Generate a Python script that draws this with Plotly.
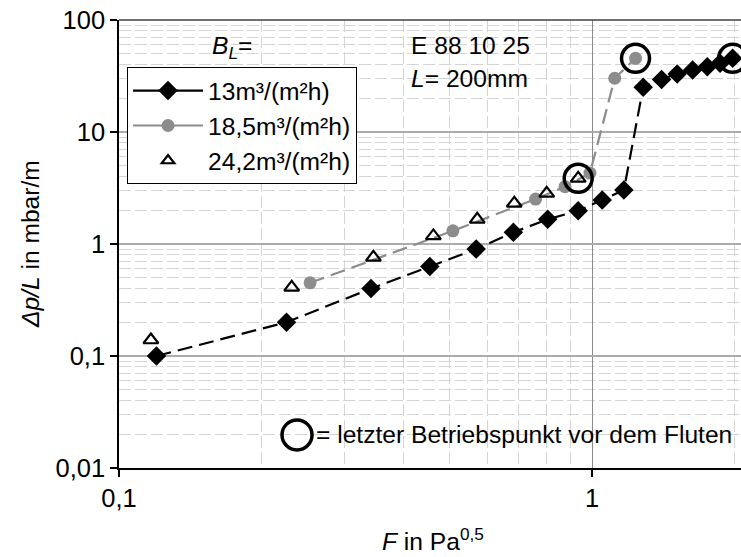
import plotly.graph_objects as go

# --- data ---
F_13 = [0.12, 0.226, 0.341, 0.454, 0.569, 0.682, 0.806, 0.935, 1.051, 1.168, 1.283, 1.403, 1.514, 1.632, 1.753, 1.865, 1.983]
dp_13 = [0.10, 0.20, 0.40, 0.63, 0.90, 1.27, 1.66, 1.98, 2.47, 3.03, 25.1, 29.5, 33.0, 35.8, 38.3, 41.0, 45.5]

F_185 = [0.2535, 0.508, 0.760, 0.877, 0.99, 1.117, 1.236]
dp_185 = [0.45, 1.31, 2.52, 3.25, 4.3, 30.2, 45.5]

F_242 = [0.1168, 0.2318, 0.345, 0.462, 0.572, 0.685, 0.802, 0.935]
dp_242 = [0.139, 0.41, 0.76, 1.18, 1.66, 2.31, 2.83, 3.86]

series_names = ["13m³/(m²h)", "18,5m³/(m²h)", "24,2m³/(m²h)"]

y_tickvals = [0.01, 0.1, 1, 10, 100]
y_ticktext = ["0,01", "0,1", "1", "10", "100"]
x_tickvals = [0.1, 1]
x_ticktext = ["0,1", "1"]

x_minor = [0.2, 0.3, 0.4, 0.5, 0.6, 0.7, 0.8, 0.9, 2]
y_minor = [m * d for d in (0.01, 0.1, 1, 10) for m in range(2, 10)]

FONT = "Liberation Sans, Arial, sans-serif"
FS = 24.6
FT = 25.5

fig = go.Figure()

# data traces
fig.add_trace(go.Scatter(x=F_13, y=dp_13, mode="lines+markers", showlegend=False,
                         line=dict(color="black", width=2.2, dash="15px,7px"),
                         marker=dict(symbol="diamond", size=15, color="black")))
fig.add_trace(go.Scatter(x=F_185, y=dp_185, mode="lines+markers", showlegend=False,
                         line=dict(color="#8c8c8c", width=2.2, dash="15px,7px"),
                         marker=dict(symbol="circle", size=13, color="#8c8c8c")))
fig.add_trace(go.Scatter(x=F_242, y=dp_242, mode="markers", showlegend=False,
                         marker=dict(symbol="triangle-up-open", size=13, color="black",
                                     line=dict(width=2.2, color="black"))))

# last operating points before flooding
fig.add_trace(go.Scatter(x=[F_13[-1], F_185[-1], F_242[-1]],
                         y=[dp_13[-1], dp_185[-1], dp_242[-1]],
                         mode="markers", showlegend=False,
                         marker=dict(symbol="circle-open", size=28, color="black",
                                     line=dict(width=3.5, color="black"))))

# legend entries (solid lines as in reference legend)
fig.add_trace(go.Scatter(x=[None], y=[None], mode="lines+markers", name=series_names[0],
                         line=dict(color="black", width=2.2),
                         marker=dict(symbol="diamond", size=15, color="black")))
fig.add_trace(go.Scatter(x=[None], y=[None], mode="lines+markers", name=series_names[1],
                         line=dict(color="#8c8c8c", width=2.2),
                         marker=dict(symbol="circle", size=13, color="#8c8c8c")))
fig.add_trace(go.Scatter(x=[None], y=[None], mode="markers", name=series_names[2],
                         marker=dict(symbol="triangle-up-open", size=11, color="black",
                                     line=dict(width=2.2, color="black"))))

fig.update_layout(
    width=741, height=557,
    margin=dict(l=119, r=0, t=20, b=89),
    paper_bgcolor="white", plot_bgcolor="white",
    font=dict(family=FONT, size=FS, color="black"),
    legend=dict(x=0.0129, y=0.895, xanchor="left", yanchor="top",
                bgcolor="white", bordercolor="black", borderwidth=1,
                font=dict(size=FS), itemwidth=70, tracegroupgap=0),
    xaxis=dict(type="log", range=[-1, 0.315],
               tickvals=x_tickvals, ticktext=x_ticktext,
               ticks="outside", ticklen=7, tickcolor="black", tickwidth=1.5,
               showline=True, linecolor="black", linewidth=1.5,
               showgrid=True, gridcolor="#8a8a8a", gridwidth=1,
               minor=dict(tickvals=x_minor, showgrid=True, gridcolor="#d4d4d4",
                          griddash="12px,4px", gridwidth=1.2, ticks=""),
               zeroline=False, tickfont=dict(size=FT)),
    yaxis=dict(type="log", range=[-2, 2],
               tickvals=y_tickvals, ticktext=y_ticktext,
               ticks="outside", ticklen=7, tickcolor="black", tickwidth=1.5,
               showline=True, linecolor="black", linewidth=1.5,
               showgrid=True, gridcolor="#ababab", gridwidth=1.5,
               minor=dict(tickvals=y_minor, showgrid=True, gridcolor="#d4d4d4",
                          griddash="12px,4px", gridwidth=1.2, ticks=""),
               zeroline=False, tickfont=dict(size=FT)),
)

# top border line
fig.add_shape(type="line", xref="paper", yref="paper", x0=0, x1=1, y0=1, y1=1,
              line=dict(color="#404040", width=1.5))

# text annotations
fig.add_annotation(xref="paper", yref="paper", x=0.1463, y=0.9397, xanchor="left", yanchor="middle",
                   text="<i>B</i><sub><i>L</i></sub>=", showarrow=False, font=dict(size=FS))
fig.add_annotation(xref="paper", yref="paper", x=0.4662, y=0.944, xanchor="left", yanchor="middle",
                   text="E 88 10 25", showarrow=False, font=dict(size=FS))
fig.add_annotation(xref="paper", yref="paper", x=0.4662, y=0.8705, xanchor="left", yanchor="middle",
                   text="<i>L</i>= 200mm", showarrow=False, font=dict(size=FS))

# flooding-point key
fig.add_shape(type="circle", xref="paper", yref="paper", xsizemode="pixel", ysizemode="pixel",
              xanchor=0.2862, yanchor=0.0737, x0=-15, x1=15, y0=-15, y1=15,
              line=dict(color="black", width=3.5))
fig.add_annotation(xref="paper", yref="paper", x=0.3135, y=0.0737, xanchor="left", yanchor="middle",
                   text="= letzter Betriebspunkt vor dem Fluten", showarrow=False, font=dict(size=FS))

# axis titles
fig.add_annotation(xref="paper", yref="paper", x=0.505, y=-0.16, xanchor="center", yanchor="middle",
                   text="<i>F</i> in Pa<sup>0,5</sup>", showarrow=False, font=dict(size=FS))
fig.add_annotation(xref="paper", yref="paper", x=-0.143, y=0.5, xanchor="center", yanchor="middle",
                   text="<i>Δp/L</i> in mbar/m", textangle=-90, showarrow=False, font=dict(size=FS))

fig.write_html("out.html")
